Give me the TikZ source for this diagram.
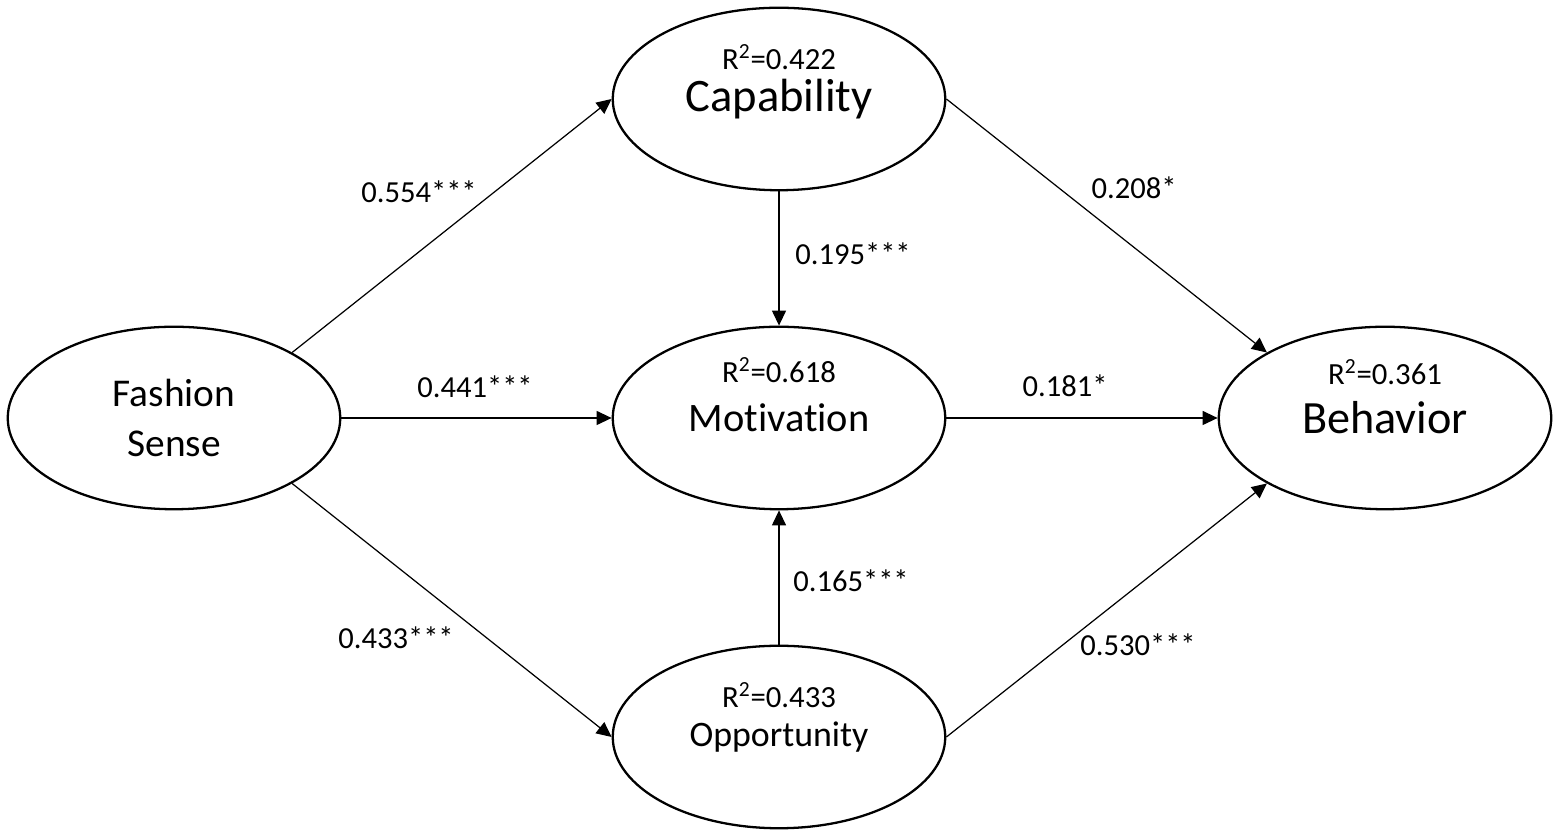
\documentclass[tikz,border=0pt]{standalone}
\usepackage{fontspec}
\setmainfont{Carlito}[Ligatures=NoCommon]
\usetikzlibrary{shapes.geometric,positioning,arrows.meta}

\begin{document}
\begin{tikzpicture}[
        latent/.style={ellipse, draw, line width=1.3pt, minimum width=6.65cm, minimum height=3.65cm, inner sep=0pt, align=center},
        rsq/.style={font=\fontsize{17.5}{21}\selectfont, inner sep=0pt},
        coef/.style={font=\fontsize{17.4}{21}\selectfont, inner sep=0pt},
        effect/.style={draw, line width=0.7pt, -{Triangle[length=0.3cm, width=0.28cm]}}
    ]
    \useasboundingbox (0,0) rectangle (31.18,16.72);

    % constructs
    \node (FS) at (3.48,8.36) [latent, font=\fontsize{22.4}{28}\selectfont] {Fashion\\Sense};
    \node (Cap) at (15.58,14.74) [latent, font=\fontsize{26.5}{32}\selectfont] {Capability};
    \node (Mot) at (15.58,8.36) [latent, font=\fontsize{23}{28}\selectfont] {Motivation};
    \node (Opp) at (15.58,1.98) [latent, font=\fontsize{20.4}{25}\selectfont] {Opportunity};
    \node (Beh) at (27.70,8.36) [latent, font=\fontsize{26.3}{32}\selectfont] {Behavior};

    \node (CapR) [rsq] at ([yshift=0.84cm]Cap.center) {R\textsuperscript{2}=0.422};
    \node (MotR) [rsq] at ([yshift=0.95cm]Mot.center) {R\textsuperscript{2}=0.618};
    \node (OppR) [rsq] at ([yshift=0.84cm]Opp.center) {R\textsuperscript{2}=0.433};
    \node (BehR) [rsq] at ([yshift=0.92cm]Beh.center) {R\textsuperscript{2}=0.361};

    % paths
    \draw[effect] (FS.29) -- (Cap.west);
    \draw[effect] (FS.east) -- (Mot.west);
    \draw[effect] (FS.-29) -- (Opp.west);
    \draw[effect] (Cap.south) -- (Mot.north);
    \draw[effect] (Opp.north) -- (Mot.south);
    \draw[effect] (Cap.east) -- (Beh.151);
    \draw[effect] (Mot.east) -- (Beh.west);
    \draw[effect] (Opp.east) -- (Beh.209);

    % coefficients
    \node (c1) at (8.38,12.88) [coef] {0.554***};
    \node (c2) at (9.50,8.98) [coef] {0.441***};
    \node (c3) at (7.92,3.96) [coef] {0.433***};
    \node (c4) at (17.06,11.64) [coef] {0.195***};
    \node (c5) at (17.02,5.10) [coef] {0.165***};
    \node (c6) at (22.68,12.96) [coef] {0.208*};
    \node (c7) at (21.30,9.00) [coef] {0.181*};
    \node (c8) at (22.76,3.82) [coef] {0.530***};
\end{tikzpicture}
\end{document}
